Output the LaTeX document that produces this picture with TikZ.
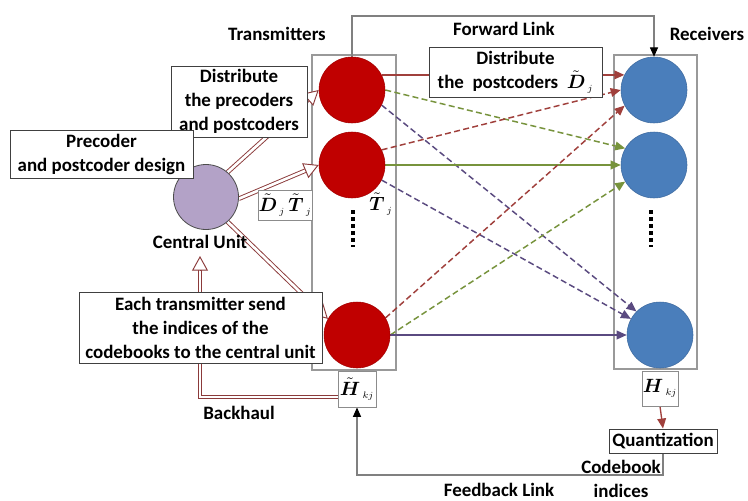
\documentclass[tikz,border=0pt]{standalone}
\usepackage{amsmath}
\usepackage{fontspec}
\setmainfont{Carlito}
\usetikzlibrary{arrows.meta,calc}
\pgfdeclarelayer{background}
\pgfsetlayers{background,main}
\definecolor{tred}{HTML}{C00000}
\definecolor{rblue}{HTML}{4A7EBB}
\definecolor{cucol}{HTML}{B3A2C7}
\definecolor{lred}{HTML}{A0403C}
\definecolor{lgreen}{HTML}{77933C}
\definecolor{lpurp}{HTML}{5A4A80}
\definecolor{dblcol}{HTML}{8B3A3A}
\newcommand\subidx[1]{_{\,\scriptscriptstyle #1}}
\tikzset{
  tx/.style={circle, fill=tred, draw=tred!85!black, minimum size=66*0.75pt, inner sep=0pt},
  rx/.style={circle, fill=rblue, draw=rblue!85!black, minimum size=66*0.75pt, inner sep=0pt},
  cu/.style={circle, fill=cucol, draw=black!70, line width=0.6pt, minimum size=65*0.75pt, inner sep=0pt},
  grp/.style={draw=black!40, line width=0.8pt},
  box/.style={draw=black!75, fill=white, line width=0.7pt, align=center, inner sep=0pt},
  mbox/.style={draw=black!45, fill=white, line width=0.7pt, align=center, inner sep=0pt},
  conn/.style={line width=1.1pt},
  sol/.style={conn, draw=#1, -{Triangle[length=7.5pt,width=6.5pt,fill=#1]}},
  dsh/.style={conn, draw=#1, dash pattern=on 4.5pt off 2.5pt, -{Triangle[length=7.5pt,width=6.5pt,fill=#1]}},
  link/.style={draw=black!50, line width=0.8pt, -{Triangle[length=7pt,width=6pt,color=black]}},
  dshaft/.style={draw=dblcol, double=white, double distance=2pt, line width=0.7pt},
  dtip/.style={draw=dblcol, line width=0.7pt, -{Triangle[open,length=11pt,width=12pt,fill=white]}},
  lbl/.style={align=center, inner sep=0pt}
}
\newcommand\dblarrow[2]{%
  \draw[dshaft, shorten >=10pt] (#1) -- (#2);
  \draw[dtip] ($(#2)!11pt!(#1)$) -- (#2);}
\begin{document}
\begin{tikzpicture}[x=0.75pt,y=-0.75pt,font=\fontsize{14.2}{18}\selectfont\bfseries]
\useasboundingbox (0,0) rectangle (748,500);

% circles
\node[tx] (t1) at (352,90) {};
\node[tx] (t2) at (352,165) {};
\node[tx] (t3) at (357,335) {};
\node[rx] (r1) at (654,90) {};
\node[rx] (r2) at (654,165) {};
\node[rx] (r3) at (660,335) {};
\node[cu] (cu) at (206,197) {};

% text boxes
\node[box, minimum width=173*0.75pt, minimum height=50*0.75pt] (dpost) at (515.5,72) {Distribute\\the\ \ postcoders \ $\tilde{\boldsymbol{D}}\subidx{j}$};
\node[box, minimum width=136*0.75pt, minimum height=71*0.75pt] (dpre) at (239,101.5) {Distribute\\the precoders\\and postcoders};
\node[box, minimum width=183*0.75pt, minimum height=48*0.75pt] (pd) at (101.5,154) {Precoder\\and postcoder design};
\node[mbox, minimum width=54*0.75pt, minimum height=30*0.75pt] (dt) at (285,205) {$\tilde{\boldsymbol{D}}\subidx{j}\,\tilde{\boldsymbol{T}}\subidx{j}$};
\node[lbl] (cul) at (200,242) {Central Unit};
\node[lbl] (tl) at (381,204) {$\tilde{\boldsymbol{T}}\subidx{j}$};
\node[box, minimum width=243*0.75pt, minimum height=71*0.75pt] (each) at (200.5,327.5) {Each transmitter send\\the indices of the\\codebooks to the central unit};
\node[lbl] (bhl) at (239,413) {Backhaul};
\node[mbox, minimum width=38*0.75pt, minimum height=36*0.75pt] (ht) at (357,389) {$\tilde{\boldsymbol{H}}\subidx{kj}$};
\node[mbox, minimum width=36*0.75pt, minimum height=35*0.75pt] (hk) at (660,388.5) {$\boldsymbol{H}\subidx{kj}$};
\node[box, minimum width=108*0.75pt, minimum height=24*0.75pt] (q) at (663,441) {Quantization};
\node[lbl] (cb) at (621,478.5) {Codebook\\indices};
\node[lbl] (fbl) at (499,489.5) {Feedback Link};
\node[lbl] (trl) at (277,34) {Transmitters};
\node[lbl] (fwl) at (504,29) {Forward Link};
\node[lbl] (rcl) at (707,34) {Receivers};

\coordinate (fl) at (0,16);
\coordinate (fb) at (0,475);
\coordinate (bh) at (200,397);
\coordinate (bt) at (200,256);

\begin{pgfonlayer}{background}
\fill[white] (0,0) rectangle (748,500);
\draw[grp] (312,55) rectangle (396,370);
\draw[grp] (614,55) rectangle (697,369);
% dots
\draw[line width=3pt, dash pattern=on 3pt off 2.3pt] (353,210) -- (353,247);
\draw[line width=3pt, dash pattern=on 3pt off 2.3pt] (651,210) -- (651,247);

% links
\draw[sol=lred] (t1.27) -- (r1.153);
\draw[dsh=lgreen] (t1.east) -- (r2.150);
\draw[dsh=lpurp] (t1.-27) -- (r3.135);
\draw[dsh=lred] (t2.27) -- (r1.west);
\draw[sol=lgreen] (t2.east) -- (r2.west);
\draw[dsh=lpurp] (t2.-27) -- (r3.151);
\draw[dsh=lred] (t3.31) -- (r1.208);
\draw[dsh=lgreen] (t3.east) -- (r2.210);
\draw[sol=lpurp] (t3.east) -- (r3.west);

% forward / feedback
\draw[link] (t1.north) -- (t1.north |- fl) -| (r1.north);
\draw[link] (q.south) -- (q.south |- fb) -| (ht.south);
\draw[sol=lred, line width=1pt] (hk.south) -- (q.north);

% double arrows
\dblarrow{cu.49}{t1.west}
\dblarrow{cu.-3}{t2.west}
\dblarrow{cu.-49}{t3.151}
\draw[dshaft, shorten >=10pt] ($(ht.west)+(0,8)$) -- (bh) -- (bt);
\draw[dtip] ($(bt)!11pt!(bh)$) -- (bt);
\end{pgfonlayer}
\end{tikzpicture}
\end{document}
